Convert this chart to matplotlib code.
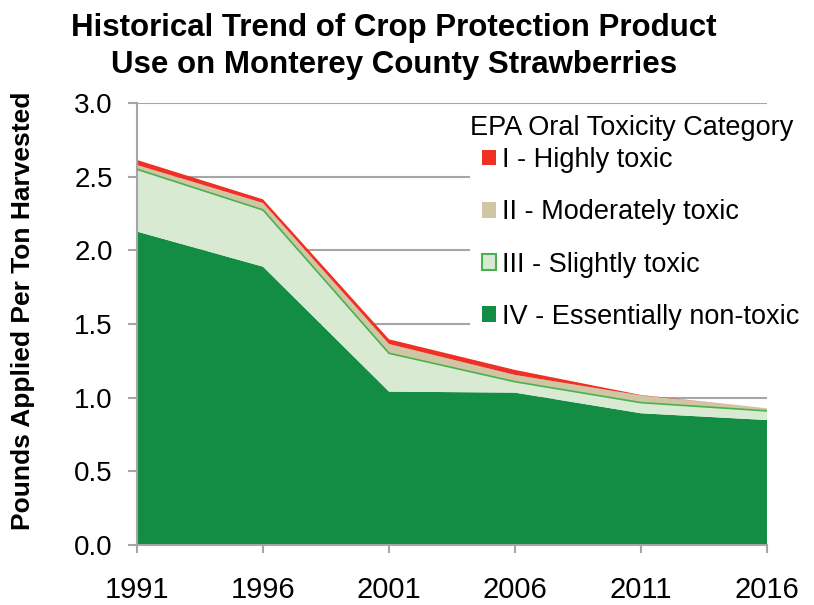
import matplotlib
matplotlib.use("Agg")
import matplotlib.pyplot as plt
from matplotlib.patches import Patch

plt.rcParams['font.family'] = ['Liberation Sans', 'DejaVu Sans']

years = [1991, 1996, 2001, 2006, 2011, 2016]
# pounds applied per ton harvested, by EPA oral toxicity category
cat_iv = [2.127, 1.889, 1.041, 1.034, 0.894, 0.848]
cat_iii = [0.423, 0.385, 0.260, 0.074, 0.072, 0.062]
cat_ii = [0.029, 0.047, 0.063, 0.046, 0.049, 0.018]
cat_i = [0.034, 0.025, 0.032, 0.034, 0.003, 0.000]

labels = ["I - Highly toxic", "II - Moderately toxic",
          "III - Slightly toxic", "IV - Essentially non-toxic"]
yticks = [0.0, 0.5, 1.0, 1.5, 2.0, 2.5, 3.0]

red = "#ee3124"
tan = "#cfc6a4"
light_green = "#d9ead3"
edge_green = "#4cb050"
dark_green = "#138c44"
grid_gray = "#a6a6a6"

fig = plt.figure(figsize=(8.14, 6.05), dpi=100)
ax = fig.add_axes([0.1683, 0.0992, 0.7740, 0.7306])

ax.stackplot(years, cat_iv, cat_iii, cat_ii, cat_i,
             colors=[dark_green, light_green, tan, red],
             linewidth=0, zorder=2)

# thin green edge along the top of category III
top_iii = [a + b for a, b in zip(cat_iv, cat_iii)]
ax.plot(years, top_iii, color=edge_green, linewidth=1.2, zorder=3)

ax.set_xlim(years[0], years[-1])
ax.set_ylim(0, 3.0)
ax.set_xticks(years)
ax.set_yticks(yticks)
ax.set_yticklabels([f"{v:.1f}" for v in yticks])
ax.yaxis.grid(True, color=grid_gray, linewidth=1.5, zorder=0)
ax.set_axisbelow(True)

for side in ["top", "right"]:
    ax.spines[side].set_visible(False)
for side in ["left", "bottom"]:
    ax.spines[side].set_color(grid_gray)
    ax.spines[side].set_linewidth(1.5)

ax.tick_params(axis="x", length=6, width=1.5, color=grid_gray,
               labelsize=21, pad=16.5)
ax.tick_params(axis="y", length=6.5, width=1.5, color=grid_gray,
               labelsize=20, pad=11)

fig.text(23 / 814, 0.486, "Pounds Applied Per Ton Harvested",
         rotation=90, ha="center", va="center",
         fontsize=19, fontweight="bold")

fig.text(0.4835, 1 - 36 / 605, "Historical Trend of Crop Protection Product",
         ha="center", va="baseline", fontsize=22.5, fontweight="bold")
fig.text(0.4835, 1 - 73 / 605, "Use on Monterey County Strawberries",
         ha="center", va="baseline", fontsize=22.5, fontweight="bold")

handles = [
    Patch(facecolor=red, edgecolor="none"),
    Patch(facecolor=tan, edgecolor="none"),
    Patch(facecolor=light_green, edgecolor=edge_green, linewidth=1.5),
    Patch(facecolor=dark_green, edgecolor="none"),
]
leg = ax.legend(handles, labels,
                loc="upper left", bbox_to_anchor=(0.5286, 0.927),
                frameon=True, facecolor="white", edgecolor="none",
                framealpha=1, fancybox=False, fontsize=19.5,
                handlelength=0.52, handleheight=0.52, handletextpad=0.22,
                labelspacing=0.97, borderpad=0.44, borderaxespad=0)
leg.set_zorder(5)

ax.text(0.5286, 0.9276, "EPA Oral Toxicity Category", transform=ax.transAxes,
        ha="left", va="baseline", fontsize=19.5, zorder=6)

fig.savefig("out.png", dpi=100)
